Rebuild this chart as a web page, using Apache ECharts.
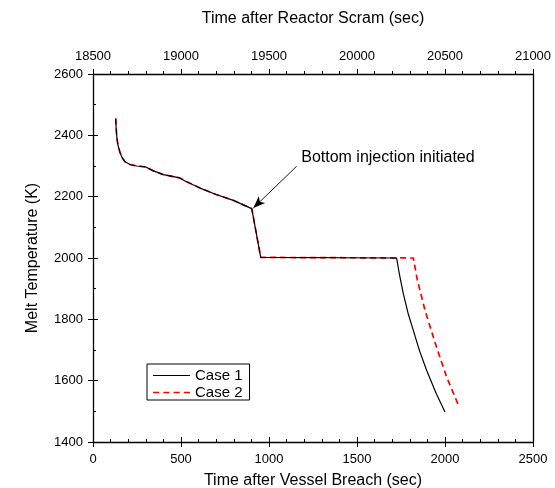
<!DOCTYPE html>
<html><head><meta charset="utf-8">
<script src="https://cdn.jsdelivr.net/npm/echarts@6/dist/echarts.min.js"></script>
<style>html,body{margin:0;padding:0;background:#fff}#c{width:555px;height:488px}</style>
</head><body><div id="c"></div>
<script>
// Time after vessel breach (s) vs melt temperature (K)
var case1 = [[129,2455],[132,2420],[136,2390],[143,2365],[153,2345],[165,2328],[180,2315],[210,2305],[248,2300],[300,2297],[340,2285],[400,2272],[494,2261],[520,2252],[608,2228],[700,2207],[797,2188],[902,2161],[953,2002],[1725,2000],[1740,1950],[1763,1884],[1790,1820],[1820,1764],[1855,1698],[1896,1633],[1950,1558],[2000,1498]];
var case2 = [[129,2455],[132,2420],[136,2390],[143,2365],[153,2345],[165,2328],[180,2315],[210,2305],[248,2300],[300,2297],[340,2285],[400,2272],[494,2261],[520,2252],[608,2228],[700,2207],[797,2188],[902,2161],[953,2002],[1820,2000],[1843,1928],[1886,1830],[1952,1709],[2010,1611],[2080,1515]];
var seriesNames = ['Case 1','Case 2'];
var bottomTicks = {min:0, max:2500, interval:500};
var topTicks = {min:18500, max:21000, interval:500};
var yTicks = {min:1400, max:2600, interval:200};
var annotationText = 'Bottom injection initiated';
var arrowFrom = [1157,2299], arrowTo = [911,2163], textAt = [1183,2328];

var font = 'Liberation Sans, Arial, Helvetica, sans-serif';
var chart = echarts.init(document.getElementById('c'));
var axLine = {show:true, lineStyle:{color:'#000', width:1.3}};
var plain = function(v){ return String(v); };
var option = {
  animation:false,
  grid:{left:93, right:22, top:74, bottom:46, containLabel:false, outerBoundsMode:'none'},
  legend:{show:true, orient:'vertical', left:147, top:364, itemWidth:37, itemHeight:2, itemGap:2,
    padding:[4,7,0,6], borderColor:'#000', borderWidth:1,
    textStyle:{fontFamily:font, fontSize:15, color:'#000'},
    data:[{name:seriesNames[0], icon:'path://M0,0H37V1.2H0Z', itemStyle:{color:'#000'}},
          {name:seriesNames[1], icon:'path://M0,0H6V1.6H0ZM10,0H16V1.6H10ZM20,0H26V1.6H20ZM30,0H36V1.6H30Z', itemStyle:{color:'#f00'}}]},
  xAxis:[
    {type:'value', position:'bottom', min:bottomTicks.min, max:bottomTicks.max, interval:bottomTicks.interval,
     name:'Time after Vessel Breach (sec)', nameLocation:'middle', nameGap:31,
     nameTextStyle:{fontFamily:font, fontSize:16, color:'#000'},
     axisLine:axLine, splitLine:{show:false},
     axisTick:{show:true, inside:true, length:5, lineStyle:{color:'#000'}},
     minorTick:{show:true, splitNumber:5, length:3, lineStyle:{color:'#000'}},
     axisLabel:{fontFamily:font, fontSize:13, color:'#000', margin:11, formatter:plain}},
    {type:'value', position:'top', min:topTicks.min, max:topTicks.max, interval:topTicks.interval,
     name:'Time after Reactor Scram (sec)', nameLocation:'middle', nameGap:47,
     nameTextStyle:{fontFamily:font, fontSize:16, color:'#000'},
     axisLine:axLine, splitLine:{show:false},
     axisTick:{show:true, inside:false, length:5, lineStyle:{color:'#000'}},
     minorTick:{show:true, splitNumber:5, length:3, lineStyle:{color:'#000'}},
     axisLabel:{fontFamily:font, fontSize:13, color:'#000', margin:11, formatter:plain}},
    {type:'value', position:'bottom', min:bottomTicks.min, max:bottomTicks.max, interval:bottomTicks.interval,
     axisLine:{show:false}, splitLine:{show:false},
     axisTick:{show:true, inside:false, length:5, lineStyle:{color:'#000'}},
     axisLabel:{show:false}}
  ],
  yAxis:[
    {type:'value', position:'left', min:yTicks.min, max:yTicks.max, interval:yTicks.interval,
     name:'Melt Temperature (K)', nameLocation:'middle', nameGap:52,
     nameTextStyle:{fontFamily:font, fontSize:16, color:'#000'},
     axisLine:axLine, splitLine:{show:false},
     axisTick:{show:true, inside:true, length:5, lineStyle:{color:'#000'}},
     minorTick:{show:true, splitNumber:2, length:3, lineStyle:{color:'#000'}},
     axisLabel:{fontFamily:font, fontSize:13, color:'#000', margin:10, formatter:plain}},
    {type:'value', position:'left', min:yTicks.min, max:yTicks.max, interval:yTicks.interval,
     axisLine:{show:false}, splitLine:{show:false},
     axisTick:{show:true, inside:false, length:5, lineStyle:{color:'#000'}},
     axisLabel:{show:false}},
    {type:'value', position:'right', min:yTicks.min, max:yTicks.max, interval:yTicks.interval,
     axisLine:axLine, splitLine:{show:false}, axisTick:{show:false}, axisLabel:{show:false}}
  ],
  series:[
    {name:seriesNames[1], type:'line', data:case2, showSymbol:false, symbol:'none',
     lineStyle:{color:'#f00', width:1.7, type:[6,4]}, itemStyle:{color:'#f00'}, z:2},
    {name:seriesNames[0], type:'line', data:case1, showSymbol:false, symbol:'none',
     lineStyle:{color:'#000', width:1.2}, itemStyle:{color:'#000'}, z:3,
     markLine:{silent:true, animation:false, symbol:['none','arrow'], symbolSize:[7,12],
       lineStyle:{color:'#000', width:0.9, type:'solid'}, label:{show:false},
       data:[[{coord:arrowFrom},{coord:arrowTo}]]},
     markPoint:{silent:true, symbol:'circle', symbolSize:0,
       label:{show:true, position:'right', distance:0, fontFamily:font, fontSize:16, color:'#000',
         formatter:annotationText},
       data:[{coord:textAt}]}}
  ]
};
chart.setOption(option);
</script></body></html>
